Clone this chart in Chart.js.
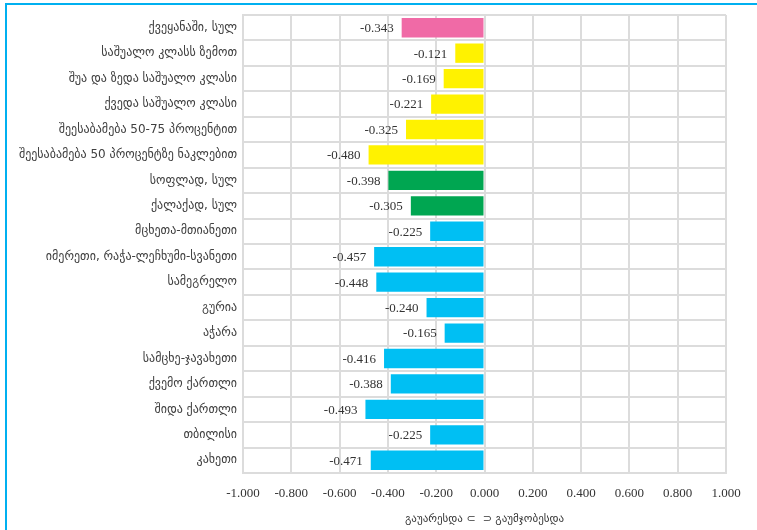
<!DOCTYPE html>
<html>
<head>
<meta charset="utf-8">
<script src="https://cdn.jsdelivr.net/npm/chart.js@4.4.1/dist/chart.umd.min.js"></script>
<style>
  html, body { margin: 0; padding: 0; background: #fff; }
  #wrap { position: relative; width: 757px; height: 530px; overflow: hidden; }
  #frame { position: absolute; left: 5px; top: 3px; width: 800px; height: 600px; border: 2px solid #00B0F0; box-sizing: border-box; }
  #chart { position: absolute; left: 0; top: 0; }
</style>
</head>
<body>
<div id="wrap">
  <div id="frame"></div>
  <canvas id="chart" width="757" height="530"></canvas>
</div>
<script>
const categories = [
  "ქვეყანაში, სულ",
  "საშუალო კლასს ზემოთ",
  "შუა და ზედა საშუალო კლასი",
  "ქვედა საშუალო კლასი",
  "შეესაბამება 50-75 პროცენტით",
  "შეესაბამება 50 პროცენტზე ნაკლებით",
  "სოფლად, სულ",
  "ქალაქად, სულ",
  "მცხეთა-მთიანეთი",
  "იმერეთი, რაჭა-ლეჩხუმი-სვანეთი",
  "სამეგრელო",
  "გურია",
  "აჭარა",
  "სამცხე-ჯავახეთი",
  "ქვემო ქართლი",
  "შიდა ქართლი",
  "თბილისი",
  "კახეთი"
];
const values = [-0.343, -0.121, -0.169, -0.221, -0.325, -0.480, -0.398, -0.305,
  -0.225, -0.457, -0.448, -0.240, -0.165, -0.416, -0.388, -0.493, -0.225, -0.471];
// group of each bar: total, class, settlement, region
const groups = ["total", "class", "class", "class", "class", "class", "settle", "settle",
  "region", "region", "region", "region", "region", "region", "region", "region", "region", "region"];
const groupColors = { total: "#F06AA6", class: "#FFF200", settle: "#00A651", region: "#00BFF3" };
const axisTitle = "გაუარესდა ⊂  ⊃ გაუმჯობესდა";

const GRID = "#DCDCDC";
const SERIF = "'Liberation Serif', 'DejaVu Serif', serif";

// value labels drawn left of each bar end
const valueLabels = {
  id: "valueLabels",
  afterDatasetsDraw(chart) {
    const ctx = chart.ctx;
    const meta = chart.getDatasetMeta(0);
    ctx.save();
    ctx.font = "13px " + SERIF;
    ctx.fillStyle = "#333";
    ctx.textAlign = "right";
    ctx.textBaseline = "middle";
    meta.data.forEach((bar, i) => {
      ctx.fillText(values[i].toFixed(3), bar.x - 8, bar.y + 1);
    });
    ctx.restore();
  }
};

new Chart(document.getElementById("chart"), {
  type: "bar",
  data: {
    labels: categories,
    datasets: [{
      data: values,
      backgroundColor: groups.map(g => groupColors[g]),
      borderWidth: 0,
      barPercentage: 0.76,
      categoryPercentage: 1
    }]
  },
  plugins: [valueLabels],
  options: {
    indexAxis: "y",
    responsive: false,
    animation: false,
    layout: { padding: { top: 15, right: 31, bottom: 0, left: 0 } },
    plugins: { legend: { display: false }, tooltip: { enabled: false } },
    scales: {
      x: {
        min: -1,
        max: 1,
        afterFit: s => { s.height = 57; },
        grid: { color: GRID, lineWidth: 2, drawTicks: false },
        border: { color: GRID, width: 2 },
        ticks: {
          stepSize: 0.2,
          padding: 13,
          color: "#333",
          font: { family: SERIF, size: 13 },
          callback: v => (Math.abs(v) < 1e-9 ? "0.000" : Number(v).toFixed(3))
        },
        title: {
          display: true,
          text: axisTitle,
          color: "#333",
          padding: { top: 6 },
          font: { family: "'DejaVu Sans', sans-serif", size: 11 }
        }
      },
      y: {
        afterFit: s => { s.width = 243; },
        grid: { color: GRID, lineWidth: 2, drawTicks: false },
        border: { color: GRID, width: 2 },
        ticks: {
          padding: 6,
          color: "#404040",
          autoSkip: false,
          font: { family: "'DejaVu Sans', sans-serif", size: 12 }
        }
      }
    }
  }
});
</script>
</body>
</html>
